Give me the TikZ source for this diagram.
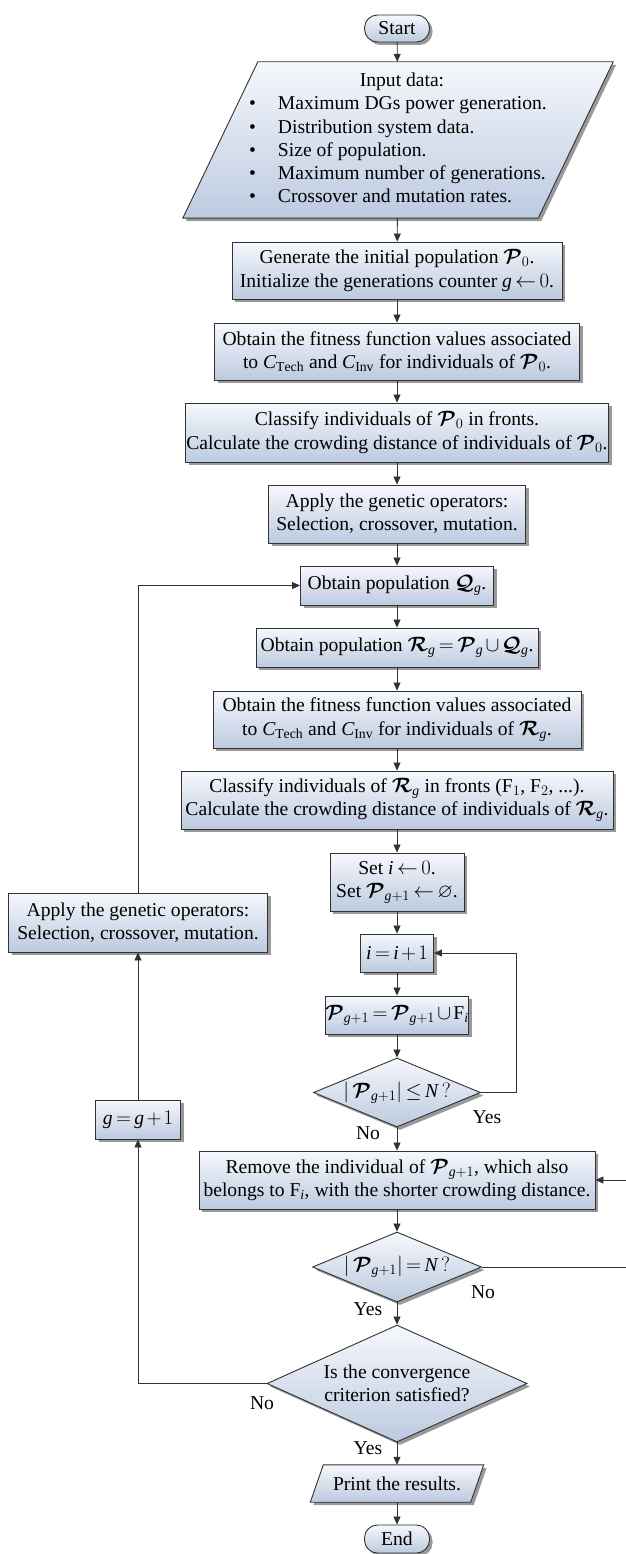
\documentclass[tikz,border=0pt]{standalone}
\usepackage{amsmath,amssymb,bm}
\usepackage{fontspec}
\setmainfont{Liberation Serif}
\setmathrm{Liberation Serif}
\usetikzlibrary{shapes.geometric,arrows.meta,shadows,calc,backgrounds}
\definecolor{boxtop}{RGB}{246,248,252}
\definecolor{boxbot}{RGB}{188,202,224}
\definecolor{linec}{RGB}{50,50,50}
\newcommand{\cP}{\bm{\mathcal{P}}}
\newcommand{\cQ}{\bm{\mathcal{Q}}}
\newcommand{\cR}{\bm{\mathcal{R}}}
\newcommand{\vi}[1]{\mathit{#1}}
\medmuskip=2mu plus 1mu minus 1mu
\thickmuskip=3mu plus 1mu minus 1mu
\tikzset{
  every node/.style={font=\fontsize{19.6}{23.3}\selectfont},
  fillbox/.style={draw=linec, line width=0.9pt, top color=boxtop, bottom color=boxbot,
    drop shadow={shadow xshift=3pt,shadow yshift=-3pt,fill=black!40,opacity=1}},
  procbox/.style={fillbox, rectangle, inner sep=0pt, align=center},
  termbox/.style={fillbox, rectangle, rounded corners=13pt, inner sep=0pt},
  decbox/.style={fillbox, diamond, inner sep=0pt, align=center},
  hold/.style={rectangle, inner sep=0pt, align=center},
  conn/.style={draw=linec, line width=0.8pt, -{Triangle[length=8pt,width=7pt]}},
  lbl/.style={inner sep=0pt}
}
\begin{document}
\begin{tikzpicture}[x=1pt,y=-1pt]
\useasboundingbox (0,0) rectangle (625,1554);

% main column
\node[termbox, minimum width=65pt, minimum height=27pt] (start) at (397,28.5) {Start};

\node[hold, minimum width=430pt, minimum height=156pt] (in) at (398,140)
 {\begin{tabular}{@{}l@{\hspace{22pt}}l@{}}
  \multicolumn{2}{c}{\hspace{8pt}Input data:}\\
  \textbullet & Maximum DGs power generation.\\
  \textbullet & Distribution system data.\\
  \textbullet & Size of population.\\
  \textbullet & Maximum number of generations.\\
  \textbullet & Crossover and mutation rates.
 \end{tabular}};
\begin{scope}[on background layer]
 \path[fillbox] (in.south west) -- ($(in.north west)+(75,0)$) -- (in.north east)
   -- ($(in.south east)+(-75,0)$) -- cycle;
\end{scope}

\node[procbox, minimum width=330pt, minimum height=57pt] (gen) at (397,270.5)
 {Generate the initial population $\cP_0$.\\ Initialize the generations counter $\vi{g} \leftarrow 0$.};
\node[procbox, minimum width=365pt, minimum height=57pt] (fit1) at (397,351.5)
 {Obtain the fitness function values associated\\ to $\vi{C}_{\mathrm{Tech}}$ and $\vi{C}_{\mathrm{Inv}}$ for individuals of $\cP_0$.};
\node[procbox, minimum width=423pt, minimum height=59pt] (cls1) at (397,432.5)
 {Classify individuals of $\cP_0$ in fronts.\\ Calculate the crowding distance of individuals of $\cP_0$.};
\node[procbox, minimum width=257pt, minimum height=58pt] (app1) at (397,514)
 {Apply the genetic operators:\\ Selection, crossover, mutation.};
\node[procbox, minimum width=193pt, minimum height=39pt] (obq) at (397,585.5)
 {Obtain population $\cQ_{\vi{g}}$.};
\node[procbox, minimum width=282pt, minimum height=39pt] (obr) at (397,647.5)
 {Obtain population $\cR_{\vi{g}} = \cP_{\vi{g}} \cup \cQ_{\vi{g}}$.};
\node[procbox, minimum width=368pt, minimum height=57pt] (fit2) at (397,719.5)
 {Obtain the fitness function values associated\\ to $\vi{C}_{\mathrm{Tech}}$ and $\vi{C}_{\mathrm{Inv}}$ for individuals of $\cR_{\vi{g}}$.};
\node[procbox, minimum width=432pt, minimum height=58pt] (cls2) at (397,800)
 {Classify individuals of $\cR_{\vi{g}}$ in fronts (F$_1$, F$_2$, ...).\\ Calculate the crowding distance of individuals of $\cR_{\vi{g}}$.};
\node[procbox, minimum width=134pt, minimum height=58pt] (seti) at (397,882)
 {Set $\vi{i} \leftarrow 0$.\\ Set $\cP_{\vi{g}+1} \leftarrow \varnothing$.};
\node[procbox, minimum width=73pt, minimum height=38pt] (inc) at (397,953)
 {$\vi{i} = \vi{i} + 1$};
\node[procbox, minimum width=139pt, minimum height=38pt] (uni) at (397,1015)
 {$\cP_{\vi{g}+1} = \cP_{\vi{g}+1} \cup \mathrm{F}_{\vi{i}}$};
\node[decbox, minimum width=167pt, minimum height=69pt, shape aspect=2.4] (d1) at (397,1092.5)
 {$\left|\,\cP_{\vi{g}+1}\right| \le \vi{N}\,?$};
\node[procbox, minimum width=396pt, minimum height=58pt] (rem) at (397,1180)
 {Remove the individual of $\cP_{\vi{g}+1}$, which also\\ belongs to F$_{\vi{i}}$, with the shorter crowding distance.};
\node[decbox, minimum width=169pt, minimum height=70pt, shape aspect=2.4] (d2) at (397,1267)
 {$\left|\,\cP_{\vi{g}+1}\right| = \vi{N}\,?$};
\node[decbox, minimum width=260pt, minimum height=117pt, shape aspect=2.2] (d3) at (397,1383.5)
 {Is the convergence\\ criterion satisfied?};

\node[hold, minimum width=173pt, minimum height=37pt] (prt) at (397,1483.5) {Print the results.};
\begin{scope}[on background layer]
 \path[fillbox] (prt.south west) -- ($(prt.north west)+(13,0)$) -- (prt.north east)
   -- ($(prt.south east)+(-13,0)$) -- cycle;
\end{scope}

\node[termbox, minimum width=65pt, minimum height=28pt] (end) at (397,1539) {End};

% left column
\node[procbox, minimum width=259pt, minimum height=59pt] (app2) at (138,922.5)
 {Apply the genetic operators:\\ Selection, crossover, mutation.};
\node[procbox, minimum width=85pt, minimum height=39pt] (ginc) at (138,1119.5)
 {$\vi{g} = \vi{g} + 1$};

% connectors
\draw[conn] (start) -- (in);
\draw[conn] (in) -- (gen);
\draw[conn] (gen) -- (fit1);
\draw[conn] (fit1) -- (cls1);
\draw[conn] (cls1) -- (app1);
\draw[conn] (app1) -- (obq);
\draw[conn] (obq) -- (obr);
\draw[conn] (obr) -- (fit2);
\draw[conn] (fit2) -- (cls2);
\draw[conn] (cls2) -- (seti);
\draw[conn] (seti) -- (inc);
\draw[conn] (inc) -- (uni);
\draw[conn] (uni) -- (d1);
\draw[conn] (d1) -- (rem);
\draw[conn] (d1.east) -- ++(35,0) |- (inc.east);
\draw[conn] (rem) -- (d2);
\coordinate (rc) at (626,1267);
\draw[conn] (d2.east) -- (rc) |- (rem.east);
\draw[conn] (d2) -- (d3);
\draw[conn] (d3.south) -- (prt.north);
\draw[conn] (prt.south) -- (end.north);
\draw[conn] (d3.west) -| (ginc.south);
\draw[conn] (ginc) -- (app2);
\draw[conn] (app2.north) |- (obq.west);

% labels
\node[lbl] (l1) at (368,1133) {No};
\node[lbl] (l2) at (487,1117) {Yes};
\node[lbl] (l3) at (483,1292) {No};
\node[lbl] (l4) at (368,1309) {Yes};
\node[lbl] (l5) at (262,1403) {No};
\node[lbl] (l6) at (368,1448) {Yes};
\end{tikzpicture}
\end{document}
